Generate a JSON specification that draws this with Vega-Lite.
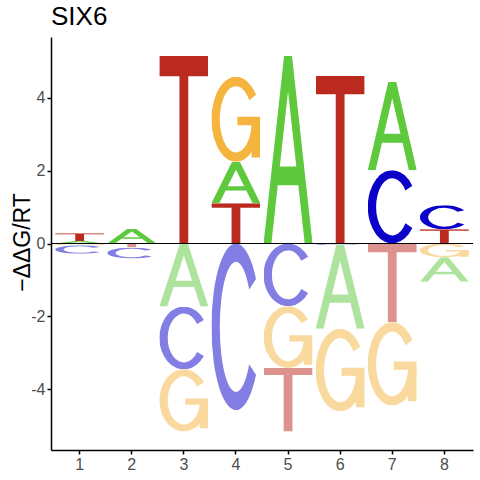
{
  "$schema": "https://vega.github.io/schema/vega-lite/v6.json",
  "width": 422,
  "height": 413,
  "autosize": "none",
  "padding": {"left": 51, "top": 37, "right": 7, "bottom": 30},
  "background": "white",
  "title": {"text": "SIX6", "anchor": "start", "frame": "group", "fontSize": 26, "font": "Liberation Sans",
            "fontWeight": "normal", "color": "black", "baseline": "alphabetic", "offset": -4, "dy": 10},
  "config": {"view": {"stroke": null},
             "axis": {"grid": false, "domainColor": "black", "domainWidth": 1.5, "tickColor": "black", "tickWidth": 1.5,
                      "tickSize": 4, "labelColor": "#4D4D4D", "labelFontSize": 16, "labelFont": "Liberation Sans",
                      "labelPadding": 2, "titleFont": "Liberation Sans", "titleFontWeight": "normal", "titleColor": "black"}},
  "data": {"values": [
    {"pos": 1, "letter": "A", "lo": 0, "hi": 0.07},
    {"pos": 1, "letter": "T", "lo": 0.07, "hi": 0.28},
    {"pos": 1, "letter": "G", "lo": 0, "hi": -0.05},
    {"pos": 1, "letter": "C", "lo": -0.05, "hi": -0.28},
    {"pos": 2, "letter": "A", "lo": 0, "hi": 0.41},
    {"pos": 2, "letter": "T", "lo": 0, "hi": -0.11},
    {"pos": 2, "letter": "C", "lo": -0.11, "hi": -0.41},
    {"pos": 3, "letter": "T", "lo": 0, "hi": 5.15},
    {"pos": 3, "letter": "A", "lo": 0, "hi": -1.73},
    {"pos": 3, "letter": "C", "lo": -1.73, "hi": -3.45},
    {"pos": 3, "letter": "G", "lo": -3.45, "hi": -5.15},
    {"pos": 4, "letter": "T", "lo": 0, "hi": 1.1},
    {"pos": 4, "letter": "A", "lo": 1.1, "hi": 2.24},
    {"pos": 4, "letter": "G", "lo": 2.24, "hi": 4.57},
    {"pos": 4, "letter": "C", "lo": 0, "hi": -4.57},
    {"pos": 5, "letter": "A", "lo": 0, "hi": 5.15},
    {"pos": 5, "letter": "C", "lo": 0, "hi": -1.72},
    {"pos": 5, "letter": "G", "lo": -1.72, "hi": -3.41},
    {"pos": 5, "letter": "T", "lo": -3.41, "hi": -5.15},
    {"pos": 6, "letter": "T", "lo": 0, "hi": 4.6},
    {"pos": 6, "letter": "C", "lo": 0, "hi": -0.04},
    {"pos": 6, "letter": "A", "lo": -0.04, "hi": -2.34},
    {"pos": 6, "letter": "G", "lo": -2.34, "hi": -4.6},
    {"pos": 7, "letter": "C", "lo": 0, "hi": 2.01},
    {"pos": 7, "letter": "A", "lo": 2.01, "hi": 4.44},
    {"pos": 7, "letter": "T", "lo": 0, "hi": -2.16},
    {"pos": 7, "letter": "G", "lo": -2.16, "hi": -4.44},
    {"pos": 8, "letter": "T", "lo": 0, "hi": 0.39},
    {"pos": 8, "letter": "C", "lo": 0.39, "hi": 1.05},
    {"pos": 8, "letter": "G", "lo": 0, "hi": -0.38},
    {"pos": 8, "letter": "A", "lo": -0.38, "hi": -1.05}
  ]},
  "layer": [
    {
      "transform": [
        {"calculate": "'data:image/svg+xml;utf8,%3Csvg xmlns=\"http://www.w3.org/2000/svg\" viewBox=\"0 0 100 100\" preserveAspectRatio=\"none\"%3E' + (datum.letter == 'A' ? '%3Cpath fill=\"rgb(95,201,62)\" fill-rule=\"evenodd\" d=\"M0,100L42,0H58L100,100H84L71,69H29L16,100ZM33.2,59H66.8L50,19Z\"/%3E' : datum.letter == 'C' ? '%3Cpath fill=\"rgb(10,0,200)\" d=\"M90.96,21.3A50,50 0 1 0 90.96,78.7L77,72.4A33,39 0 1 1 77,27.6Z\"/%3E' : datum.letter == 'G' ? '%3Cpath fill=\"rgb(245,180,62)\" d=\"M90.96,21.3A50,50 0 1 0 99.5,57L82.7,55.4A33,39 0 1 1 77,27.6Z\"/%3E%3Cpath fill=\"rgb(245,180,62)\" d=\"M53,47H100V95H82V57H53Z\"/%3E' : '%3Cpath fill=\"rgb(187,42,30)\" d=\"M0,0H100V11H59V100H41V11H0Z\"/%3E') + '%3C/svg%3E'", "as": "glyph"}
      ],
      "mark": {"type": "image", "aspect": false},
      "encoding": {
        "x": {"field": "pos", "type": "ordinal", "title": null,
              "scale": {"type": "band", "paddingInner": 0.06, "paddingOuter": 0.08},
              "axis": {"labelAngle": 0}},
        "y": {"field": "lo", "type": "quantitative", "title": "−ΔΔG/RT",
              "scale": {"domain": [-5.66, 5.66], "nice": false, "zero": false},
              "axis": {"values": [-4, -2, 0, 2, 4], "titleFontSize": 23, "titleX": -22, "titleY": 205,
                       "titleBaseline": "alphabetic",
                       "labelExpr": "datum.value < 0 ? '-' + abs(datum.value) : '' + datum.value"}},
        "y2": {"field": "hi"},
        "url": {"field": "glyph", "type": "nominal"},
        "opacity": {"condition": {"test": "datum.hi < 0", "value": 0.5}, "value": 1}
      }
    },
    {
      "mark": {"type": "rule", "color": "black", "strokeWidth": 1},
      "encoding": {"y": {"datum": 0}}
    }
  ]
}
